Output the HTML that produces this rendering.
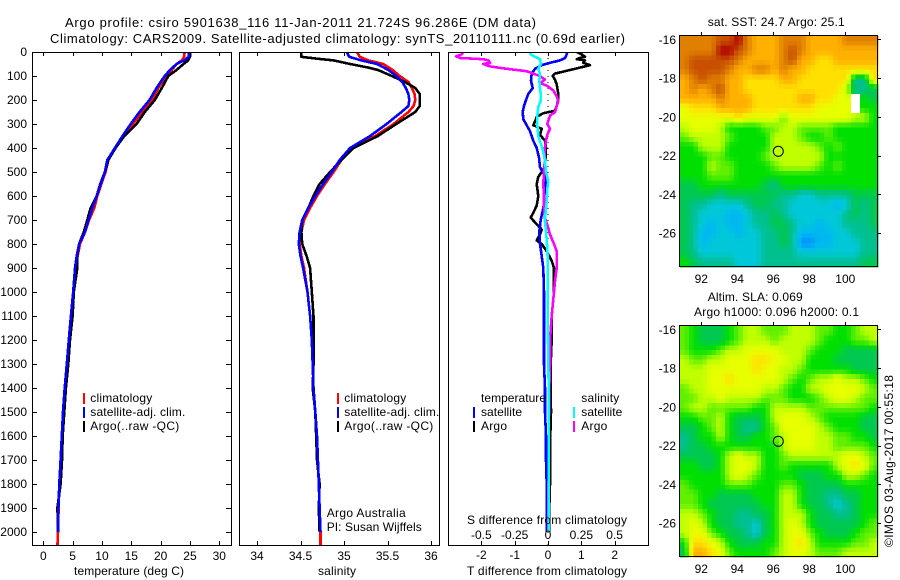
<!DOCTYPE html>
<html><head><meta charset="utf-8"><title>Argo profile</title>
<style>
html,body{margin:0;padding:0;background:#fff}
svg{display:block}
text{font-family:"Liberation Sans",sans-serif;font-size:12px;fill:#000}
.t13{font-size:13px}
</style></head>
<body>
<svg id="chart" xmlns="http://www.w3.org/2000/svg" width="900" height="580" viewBox="0 0 900 580">
<defs>
<clipPath id="c1"><rect x="32" y="52" width="200" height="494"/></clipPath>
<clipPath id="c2"><rect x="239" y="52" width="201" height="494"/></clipPath>
<clipPath id="c3"><rect x="448" y="52" width="201" height="494"/></clipPath>
</defs>
<text class="t13" x="65" y="27" textLength="471" lengthAdjust="spacing">Argo profile: csiro 5901638_116 11-Jan-2011 21.724S 96.286E (DM data)</text>
<text class="t13" x="50" y="43" textLength="575" lengthAdjust="spacing">Climatology: CARS2009. Satellite-adjusted climatology: synTS_20110111.nc (0.69d earlier)</text>
<g id="heat1"></g>
<g id="heat2"></g>
<g id="marks1" clip-path="url(#c1)"></g>
<g id="marks2" clip-path="url(#c2)"></g>
<g id="marks3" clip-path="url(#c3)"></g>
<g id="axes"></g>
<rect x="32.5" y="52.5" width="199" height="493" fill="none" stroke="#000"/>
<rect x="239.5" y="52.5" width="200" height="493" fill="none" stroke="#000"/>
<rect x="448.5" y="52.5" width="200" height="493" fill="none" stroke="#000"/>
<rect x="679.5" y="35.5" width="198" height="231" fill="none" stroke="#000"/>
<rect x="679.5" y="325.5" width="198" height="231" fill="none" stroke="#000"/>
<circle cx="778.3" cy="151.3" r="5" fill="none" stroke="#000"/>
<circle cx="778.3" cy="441.3" r="5" fill="none" stroke="#000"/>

<text x="74" y="575" textLength="110" lengthAdjust="spacing">temperature (deg C)</text>
<text x="318" y="575" textLength="38" lengthAdjust="spacing">salinity</text>
<text x="467" y="575" textLength="160" lengthAdjust="spacing">T difference from climatology</text>
<text x="467" y="524" textLength="160" lengthAdjust="spacing">S difference from climatology</text>

<g>
<rect x="83" y="393" width="2" height="11" fill="#f00"/>
<rect x="83" y="407" width="2" height="11" fill="#00f"/>
<rect x="83" y="421" width="2" height="11" fill="#000"/>
<text x="90.3" y="402" textLength="62" lengthAdjust="spacing">climatology</text>
<text x="90.3" y="416" textLength="95" lengthAdjust="spacing">satellite-adj. clim.</text>
<text x="90.3" y="430" textLength="89" lengthAdjust="spacing">Argo(..raw -QC)</text>
</g>
<g>
<rect x="337" y="393" width="2" height="11" fill="#f00"/>
<rect x="337" y="407" width="2" height="11" fill="#00f"/>
<rect x="337" y="421" width="2" height="11" fill="#000"/>
<text x="344.3" y="402" textLength="62" lengthAdjust="spacing">climatology</text>
<text x="344.3" y="416" textLength="95" lengthAdjust="spacing">satellite-adj. clim.</text>
<text x="344.3" y="430" textLength="89" lengthAdjust="spacing">Argo(..raw -QC)</text>
</g>
<text x="326.7" y="517" textLength="79" lengthAdjust="spacing">Argo Australia</text>
<text x="326.7" y="531" textLength="95" lengthAdjust="spacing">PI: Susan Wijffels</text>
<g>
<text x="481" y="402" textLength="65" lengthAdjust="spacing">temperature</text>
<text x="581.3" y="402" textLength="38" lengthAdjust="spacing">salinity</text>
<rect x="473" y="407" width="2" height="11" fill="#00f"/>
<rect x="473" y="421" width="2" height="11" fill="#000"/>
<rect x="573" y="407" width="2" height="11" fill="#0ff"/>
<rect x="573" y="421" width="2" height="11" fill="#f0f"/>
<text x="481" y="416" textLength="41" lengthAdjust="spacing">satellite</text>
<text x="481" y="430" textLength="26" lengthAdjust="spacing">Argo</text>
<text x="581.3" y="416" textLength="41" lengthAdjust="spacing">satellite</text>
<text x="581.3" y="430" textLength="26" lengthAdjust="spacing">Argo</text>
</g>
<text x="707.7" y="26" textLength="137" lengthAdjust="spacing">sat. SST: 24.7 Argo: 25.1</text>
<text x="707.7" y="301" textLength="95" lengthAdjust="spacing">Altim. SLA: 0.069</text>
<text x="694" y="316" textLength="165" lengthAdjust="spacing">Argo h1000: 0.096 h2000: 0.1</text>
<text transform="translate(893 547) rotate(-90)" x="0" y="0" textLength="172" lengthAdjust="spacing">©IMOS 03-Aug-2017 00:55:18</text>
</svg>

<script>
// ---------- profile data ----------
const depthTicks = [0,100,200,300,400,500,600,700,800,900,1000,1100,1200,1300,1400,1500,1600,1700,1800,1900,2000];
const tempTicks = [0,5,10,15,20,25,30];
const salTicks = [34,34.5,35,35.5,36];
const salTickLabels = ['34','34.5','35','35.5','36'];
const tDiffTicks = [-2,-1,0,1,2];
const sDiffTicks = [-0.5,-0.25,0,0.25,0.5];
const sDiffLabels = ['-0.5','-0.25','0','0.25','0.5'];
const lonTicks = [92,94,96,98,100];
const latTicks = [16,18,20,22,24,26];

const tempDepths = [0,20,35,50,75,100,150,200,250,300,350,400,450,500,550,600,650,700,750,800,850,900,1000,1100,1200,1300,1400,1500,1600,1700,1800,1900,2000,2060];
const tempClim = [24.1,24.0,23.6,22.7,21.9,20.9,19.6,18.6,16.8,15.3,13.6,12.2,11.1,10.6,9.9,9.2,8.7,7.8,7.1,6.25,5.85,5.57,5.2,4.8,4.45,4.05,3.7,3.4,3.18,3.0,2.75,2.6,2.5,2.4];
const tempSat = [24.8,24.8,24,22.7,21.6,20.7,19.3,18.1,16.4,14.9,13.5,12.2,10.9,10.5,9.8,9.1,8.35,7.7,7.1,6.1,5.7,5.4,5.1,4.7,4.35,4.0,3.65,3.35,3.15,2.95,2.72,2.58,2.48,null];
const tempArgo = [25,25,24.7,23.9,22.7,21.3,20.2,19,17.3,15.9,13.8,12.3,11.1,10.5,9.7,9.1,8.07,7.5,6.9,6.1,5.8,5.8,5.2,5.0,4.55,4.26,3.86,3.58,3.3,3.18,2.95,2.4,2.55,null];

const salDepths = [0,20,35,50,75,100,125,150,175,200,225,250,300,350,400,450,500,550,600,650,700,750,800,850,900,1000,1100,1200,1300,1400,1500,1600,1700,1800,1900,2000,2060];
const salClim = [35.15,35.18,35.28,35.45,35.56,35.64,35.74,35.78,35.81,35.82,35.80,35.74,35.57,35.36,35.11,34.97,34.88,34.78,34.69,34.61,34.54,34.51,34.49,34.51,34.54,34.58,34.61,34.63,34.64,34.65,34.67,34.68,34.70,34.71,34.72,34.73,34.73];
const salSat = [35.03,35.06,35.2,35.38,35.51,35.6,35.67,35.71,35.74,35.75,35.74,35.66,35.49,35.3,35.07,34.95,34.86,34.76,34.67,34.59,34.52,34.49,34.48,34.5,34.53,34.58,34.61,34.63,34.64,34.65,34.67,34.69,34.7,34.71,34.72,34.73,null];
const salArgoDepths = [0,20,28,35,50,65,75,100,125,150,175,200,225,250,300,350,400,450,500,550,600,650,700,750,800,850,900,1000,1100,1200,1300,1400,1500,1600,1700,1800,1900,2000];
const salArgo = [34.51,34.51,34.69,34.88,35.07,35.28,35.39,35.55,35.7,35.82,35.87,35.87,35.87,35.82,35.6,35.39,35.11,34.97,34.84,34.72,34.65,34.59,34.52,34.51,34.52,34.57,34.61,34.63,34.65,34.65,34.65,34.64,34.67,34.68,34.69,34.72,34.71,34.72];

const tArgoDepths = [0,10,20,25,30,35,45,55,65,75,90,100,115,135,150,175,200,225,245,255,270,290,305,320,345,370,400,480,500,520,550,600,640,670,690,710,740,760,785,800,830,870,900,1000,1100,1200,1300,1400,1500,1600,1700,1800,1900,2000];
const tArgoDiff = [.86,1.01,1.11,.96,.86,1.11,1.06,1.26,.96,.66,.21,.14,.21,.26,.28,.31,.31,.26,.21,-.14,-.34,-.39,-.44,-.19,-.24,-.09,-.06,-.09,-.19,-.29,-.34,-.29,-.34,-.44,-.52,-.39,-.19,-.24,-.34,-.19,-.04,.11,.18,.18,.11,.11,.08,.08,.09,.07,.07,.06,.04,.03];
const tSatDepths = [0,10,25,35,45,55,70,90,120,150,175,200,225,250,280,300,330,370,400,440,480,510,550,600,650,700,750,800,850,900,1000,1100,1300,1400,1500,1600,1700,1800,1900,2000];
const tSatDiff = [.58,.56,.51,.36,.06,-.19,-.39,-.49,-.51,-.46,-.59,-.66,-.72,-.76,-.74,-.66,-.54,-.44,-.34,-.27,-.24,-.12,-.06,-.09,-.14,-.22,-.26,-.24,-.19,-.14,-.12,-.12,-.12,-.09,-.09,-.06,-.06,-.04,-.04,-.04];
const sArgoDepths = [0,10,18,25,30,35,45,50,60,70,80,90,100,115,130,140,160,185,205,225,250,265,300,320,345,370,400,450,500,550,600,650,690,720,760,800,830,900,950,1000,1030,1100,1200,1300,1400,1600,2000];
const sArgoDiff = [-.635,-.648,-.69,-.66,-.485,-.448,-.435,-.485,-.435,-.31,-.16,-.11,-.06,-.023,-.06,-.01,.04,.065,.078,.065,.053,.015,-.005,.015,-.005,-.015,-.023,-.023,-.03,-.035,-.03,-.03,-.023,-.005,.015,.045,.065,.065,.053,.045,.04,.028,.015,.015,.01,.005,.003];
const sSatDepths = [0,10,20,30,50,70,90,120,150,180,200,230,265,300,350,400,450,500,540,570,620,700,780,850,1000,1200,1400,2000];
const sSatDiff = [-.135,-.13,-.098,-.06,-.053,-.073,-.06,-.065,-.06,-.053,-.053,-.073,-.08,-.08,-.073,-.043,-.023,-.015,.003,-.005,-.01,-.023,-.01,-.003,-.003,0,.005,.005];

// ---------- map data: colour level per grid cell, north to south, west to east (null = no data) ----------
const sstGrid = [
[11,11,11,11,12,12,13,11,10,10,10,11,11,11,10,10,10,10,11,11,11,11],
[11,11,11,11,13,13,12,11,10,10,10,11,12,11,10,10,10,10,10,10,10,10],
[11,12,12,12,12,12,11,10,10,10,10,11,12,10,10,9,9,10,10,10,10,10],
[11,12,12,12,12,11,10,10,11,11,10,11,10,10,9,9,9,9,9,9,9,9],
[10,11,12,11,11,10,10,9,9,9,9,10,10,9,9,9,9,9,9,3,3,9],
[10,11,10,11,12,10,10,9,9,9,9,9,9,9,9,9,9,9,7,3,3,4],
[10,10,10,10,11,10,10,10,9,9,9,9,9,10,10,9,9,8,8,null,5,4],
[8,9,9,9,10,10,10,10,9,9,9,9,9,9,9,8,8,8,8,null,5,5],
[8,8,8,8,8,8,9,8,8,8,8,6,8,8,8,8,8,8,8,7,7,5],
[7,8,8,8,7,5,5,5,5,6,6,7,7,6,6,6,6,5,5,5,5,5],
[6,7,7,7,7,6,5,5,5,5,7,7,7,6,5,5,6,5,5,5,5,5],
[5,5,7,7,7,5,5,5,5,5,7,7,7,7,7,6,5,6,5,5,5,5],
[5,5,5,6,6,5,5,5,5,6,7,7,7,7,7,7,5,5,5,5,5,5],
[5,5,5,7,6,6,5,5,5,5,6,7,7,7,7,6,5,6,5,5,5,5],
[5,5,5,6,6,6,5,5,5,5,5,5,5,5,5,5,5,5,5,5,5,5],
[4,4,5,5,5,5,5,5,5,4,3,5,5,5,5,5,5,5,5,5,5,5],
[4,4,4,4,3,4,4,4,4,4,4,3,3,2,2,3,3,3,3,4,4,4],
[4,3,3,2,2,2,2,3,4,4,3,3,2,2,2,2,2,1,2,4,3,4],
[4,3,2,2,2,1,1,2,3,3,4,3,2,2,2,2,2,2,3,4,3,4],
[4,3,2,1,2,1,1,2,3,3,4,4,3,2,2,1,2,2,3,3,3,4],
[4,3,1,1,2,2,1,2,2,3,3,4,3,1,1,1,1,2,2,3,3,3],
[4,3,1,2,2,2,2,2,2,3,3,4,3,0,0,1,1,2,2,2,3,3],
[4,3,2,2,2,2,2,2,2,3,3,3,3,2,2,2,2,2,2,2,3,3],
[5,4,3,3,3,3,2,2,2,3,3,3,3,3,3,3,3,3,3,3,4,4]
];
const slaGrid = [
[6,5,4,4,4,5,6,7,7,6,6,6,7,7,7,6,6,5,5,6,7,7],
[6,5,4,4,4,5,6,7,7,7,6,7,7,7,7,6,5,5,5,6,6,7],
[6,5,5,5,6,7,7,8,8,8,8,7,7,7,6,5,5,5,4,4,4,4],
[7,6,6,7,7,8,8,8,9,9,8,8,7,7,5,5,5,4,4,4,4,4],
[7,7,7,8,8,8,8,8,9,8,8,7,7,6,5,5,5,5,5,4,4,4],
[7,7,7,8,8,9,8,8,8,8,8,7,6,5,6,7,7,8,7,7,6,5],
[6,7,7,8,8,8,8,8,8,7,7,6,5,5,7,7,8,8,8,8,7,6],
[6,6,7,7,8,7,7,7,7,6,6,6,5,5,5,6,7,8,8,7,6,6],
[6,7,7,6,6,6,6,6,5,5,7,7,7,7,6,6,6,6,6,6,6,5],
[5,5,6,6,7,5,4,4,4,5,7,8,8,8,7,6,5,5,5,5,4,4],
[4,4,5,6,7,5,4,3,3,5,6,8,8,8,8,7,6,5,5,5,4,4],
[3,4,5,5,7,5,4,4,5,5,6,7,8,8,8,7,7,6,6,5,5,4],
[3,4,4,5,5,5,5,5,5,5,5,7,8,8,8,7,7,6,6,6,6,5],
[4,4,4,4,5,7,8,7,7,5,5,6,7,7,7,7,7,7,8,8,7,6],
[5,5,4,4,5,7,8,8,7,5,5,6,5,5,5,5,5,7,8,9,8,6],
[5,5,5,5,5,7,8,7,6,5,5,5,5,4,4,4,5,5,7,7,6,5],
[6,5,5,5,5,6,6,6,5,5,5,6,6,5,4,4,4,4,5,5,5,5],
[6,6,5,5,4,4,4,4,5,5,5,7,7,5,4,4,3,3,4,4,5,5],
[6,6,5,4,4,4,4,4,4,5,5,7,7,5,4,4,3,2,3,4,5,5],
[7,7,6,5,4,4,3,3,4,4,5,7,7,7,5,4,4,3,3,4,5,5],
[7,8,7,5,4,4,3,3,2,4,5,7,8,7,5,4,4,4,4,4,5,6],
[7,8,8,6,5,4,4,3,2,4,5,7,8,8,6,5,4,4,4,5,6,6],
[5,9,9,8,7,5,4,4,4,5,5,7,8,9,7,5,5,5,5,6,6,7],
[4,10,10,9,8,6,5,5,5,5,6,7,8,8,7,6,6,6,7,7,7,7]
];
const colourLevels = ['#0090ff','#00b8f0','#00c8d8','#00c090','#00c850','#00e000','#60f000','#c0ff00','#e8ff00','#ffe000','#ffb000','#e08000','#c85000','#b00000'];

// ---------- axis functions ----------
const SVGNS = 'http://www.w3.org/2000/svg';
const yDepth = d => 52 + 0.24 * d;
const xTemp = t => 43.3 + 5.867 * t;
const xSal = s => 257 + 87 * (s - 34);
const xTDiff = t => 548 + 33.33 * t;
const xSDiff = s => 548 + 133.3 * s;
const xLon = lon => 701.3 + 18 * (lon - 92);
const yLat = (lat, top) => top + 4.4 + 19.36 * (lat - 16);

function newEl(tag, parent, attrs, txt) {
  const el = document.createElementNS(SVGNS, tag);
  for (const k in attrs) el.setAttribute(k, attrs[k]);
  if (txt !== undefined) el.textContent = txt;
  parent.appendChild(el);
  return el;
}
function drawSeries(parent, name, xFn, depths, vals, colour) {
  let d = '';
  vals.forEach((v, i) => {
    if (v === null) return;
    d += (d ? 'L' : 'M') + xFn(v).toFixed(1) + ' ' + yDepth(depths[i]).toFixed(1);
  });
  const el = newEl('path', parent, {d: d, fill: 'none', stroke: colour, 'stroke-width': 2.6, 'shape-rendering': 'crispEdges', 'stroke-linejoin': 'round'});
  
  
  return el;
}
const axes = document.getElementById('axes');
function tick(x1, y1, x2, y2) {
  const el = newEl('line', axes, {x1: x1, y1: y1, x2: x2, y2: y2, stroke: '#000', 'shape-rendering': 'crispEdges'});
  
  
}
function label(x, y, txt, anchor) {
  const el = newEl('text', axes, {x: x, y: y, 'text-anchor': anchor || 'middle'}, txt);
  
  
}

// series
const m1 = document.getElementById('marks1');
drawSeries(m1, 'temperature-climatology-line', xTemp, tempDepths, tempClim, '#f00');
drawSeries(m1, 'temperature-argo-line', xTemp, tempDepths, tempArgo, '#000');
drawSeries(m1, 'temperature-satellite-line', xTemp, tempDepths, tempSat, '#00f');
const m2 = document.getElementById('marks2');
drawSeries(m2, 'salinity-climatology-line', xSal, salDepths, salClim, '#f00');
drawSeries(m2, 'salinity-argo-line', xSal, salArgoDepths, salArgo, '#000');
drawSeries(m2, 'salinity-satellite-line', xSal, salDepths, salSat, '#00f');
const m3 = document.getElementById('marks3');
const zeroLine = newEl('line', m3, {x1: xTDiff(0), x2: xTDiff(0), y1: 52, y2: 546, stroke: '#000', 'stroke-dasharray': '1 5'});


drawSeries(m3, 't-argo-difference-line', xTDiff, tArgoDepths, tArgoDiff, '#000');
drawSeries(m3, 't-satellite-difference-line', xTDiff, tSatDepths, tSatDiff, '#00f');
drawSeries(m3, 's-argo-difference-line', xSDiff, sArgoDepths, sArgoDiff, '#f0f');
drawSeries(m3, 's-satellite-difference-line', xSDiff, sSatDepths, sSatDiff, '#0ff');

// profile axes
depthTicks.forEach(d => {
  tick(33, yDepth(d) + .5, 37, yDepth(d) + .5);
  tick(226, yDepth(d) + .5, 231, yDepth(d) + .5);
  label(27, yDepth(d) + 4, String(d), 'end');
});
tempTicks.forEach(t => {
  const x = Math.round(xTemp(t)) + .5;
  tick(x, 52, x, 56); tick(x, 541, x, 545);
  label(xTemp(t), 560, String(t));
});
salTicks.forEach((s, i) => {
  const x = Math.round(xSal(s)) + .5;
  tick(x, 52, x, 56); tick(x, 541, x, 545);
  label(xSal(s), 560, salTickLabels[i]);
});
tDiffTicks.forEach(t => {
  const x = Math.round(xTDiff(t)) + .5;
  tick(x, 52, x, 56); tick(x, 541, x, 545);
  label(xTDiff(t), 559, String(t));
});
sDiffTicks.forEach((s, i) => {
  label(xSDiff(s), 539, sDiffLabels[i]);
});

// map axes
[35, 325].forEach(top => {
  lonTicks.forEach(lon => {
    const x = Math.round(xLon(lon)) + .5;
    tick(x, top - 3, x, top);
    label(xLon(lon), top + 248, String(lon));
  });
  latTicks.forEach(lat => {
    const y = Math.round(yLat(lat, top)) + .5;
    tick(878, y, 881, y);
    label(676, yLat(lat, top) + 4.5, '-' + lat, 'end');
  });
});

// heatmaps (2x sub-sampled between grid centres)
function drawHeat(id, grid, x0, y0, w, h, name) {
  const g = document.getElementById(id);
  const rows = grid.length, cols = grid[0].length, sub = 2;
  const cw = w / cols / sub, ch = h / rows / sub;
  const at = (r, c) => grid[Math.max(0, Math.min(rows - 1, r))][Math.max(0, Math.min(cols - 1, c))];
  for (let r = 0; r < rows * sub; r++) {
    for (let c = 0; c < cols * sub; c++) {
      const fy = (r + .5) / sub - .5, fx = (c + .5) / sub - .5;
      const r0 = Math.floor(fy), c0 = Math.floor(fx), ty = fy - r0, tx = fx - c0;
      const nearest = at(Math.round(fy), Math.round(fx));
      let colour = '#fff';
      if (nearest !== null) {
        let sum = 0, wt = 0;
        [[r0, c0, (1 - ty) * (1 - tx)], [r0, c0 + 1, (1 - ty) * tx], [r0 + 1, c0, ty * (1 - tx)], [r0 + 1, c0 + 1, ty * tx]].forEach(p => {
          const v = at(p[0], p[1]);
          if (v !== null) { sum += v * p[2]; wt += p[2]; }
        });
        colour = levelColour(sum / wt);
      }
      const cell = newEl('rect', g, {x: (x0 + c * cw).toFixed(2), y: (y0 + r * ch).toFixed(2), width: (cw + .3).toFixed(2), height: (ch + .3).toFixed(2), fill: colour, 'shape-rendering': 'crispEdges'});
      
      
    }
  }
}
function hexRgb(h) { return [1, 3, 5].map(i => parseInt(h.substr(i, 2), 16)); }
function levelColour(v) {
  const a = Math.max(0, Math.min(colourLevels.length - 1, v));
  const i = Math.min(colourLevels.length - 2, Math.floor(a)), t = a - i;
  const p = hexRgb(colourLevels[i]), q = hexRgb(colourLevels[i + 1]);
  return 'rgb(' + p.map((n, k) => Math.round(n + (q[k] - n) * t)).join(',') + ')';
}
drawHeat('heat1', sstGrid, 680, 36, 198, 231, 'sst-cell');
drawHeat('heat2', slaGrid, 680, 326, 198, 231, 'sla-cell');
</script>
</body></html>
